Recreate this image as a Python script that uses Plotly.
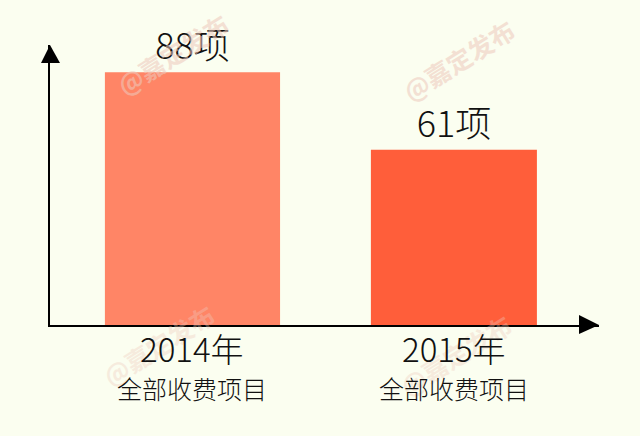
import plotly.graph_objects as go

categories = ["2014年", "2015年"]
sub_labels = ["全部收费项目", "全部收费项目"]
values = [88, 61]
value_labels = ["88项", "61项"]
bar_colors = ["#FF8566", "#FF5E3A"]
watermark = "@嘉定发布"

BG = "#FBFEF0"
FONT = "Noto Sans CJK SC"

W, H = 640, 436
L, R, T, B = 50, 41, 45, 111  # plot area px: x 50..599, y 45..325

fig = go.Figure()
fig.add_trace(go.Bar(
    x=[0, 1], y=values, width=[0.67, 0.635],
    marker=dict(color=bar_colors, line=dict(width=0)),
    text=value_labels, textposition="outside", cliponaxis=False,
    textfont=dict(family=FONT, size=36, color="#111111", weight=300),
    hoverinfo="skip",
))

fig.update_layout(
    width=W, height=H,
    margin=dict(l=L, r=R, t=T, b=B),
    paper_bgcolor=BG, plot_bgcolor=BG,
    showlegend=False,
    font=dict(family=FONT, color="#111111", weight=300),
    xaxis=dict(range=[-0.545, 1.555], tickvals=[0, 1], showticklabels=False,
               showgrid=False, zeroline=False, showline=True, linecolor="#000000", linewidth=2,
               ticks=""),
    yaxis=dict(range=[0, 97.5], showgrid=False, zeroline=False, showline=True,
               linecolor="#000000", linewidth=2, showticklabels=False, ticks=""),
    bargap=0.3,
)

pw = W - L - R
ph = H - T - B
def px(xp):
    return (xp - L) / pw
def py(yp):
    return (H - B - yp) / ph

# faint watermarks
for (cx, cy, op) in [(172, 54, 0.55), (458, 60, 0.55), (158, 345, 0.35), (455, 355, 0.35)]:
    fig.add_annotation(x=px(cx), y=py(cy), xref="paper", yref="paper", text=watermark,
                       showarrow=False, textangle=-32, opacity=op,
                       font=dict(family=FONT, size=25, color="#EEC9BC", weight=700),
                       xanchor="center", yanchor="middle")

for i, (c, s) in enumerate(zip(categories, sub_labels)):
    fig.add_annotation(x=i, y=py(348), xref="x", yref="paper", text=c, showarrow=False,
                       font=dict(family=FONT, size=33, color="#111111", weight=300),
                       xanchor="center", yanchor="middle")
    fig.add_annotation(x=i, y=py(388), xref="x", yref="paper", text=s, showarrow=False,
                       font=dict(family=FONT, size=25, color="#111111", weight=300),
                       xanchor="center", yanchor="middle")

# arrowheads
fig.add_shape(type="path", xref="paper", yref="paper",
              path=f"M {px(41)} {py(63)} L {px(50)} {py(45)} L {px(60)} {py(63)} Z",
              fillcolor="#000000", line=dict(width=0))
fig.add_shape(type="path", xref="paper", yref="paper",
              path=f"M {px(579)} {py(315)} L {px(599)} {py(325)} L {px(579)} {py(334)} Z",
              fillcolor="#000000", line=dict(width=0))

fig.write_html("out.html", config={"displayModeBar": False},
               post_script="document.body.style.margin='0';document.body.style.background='%s';" % BG)
